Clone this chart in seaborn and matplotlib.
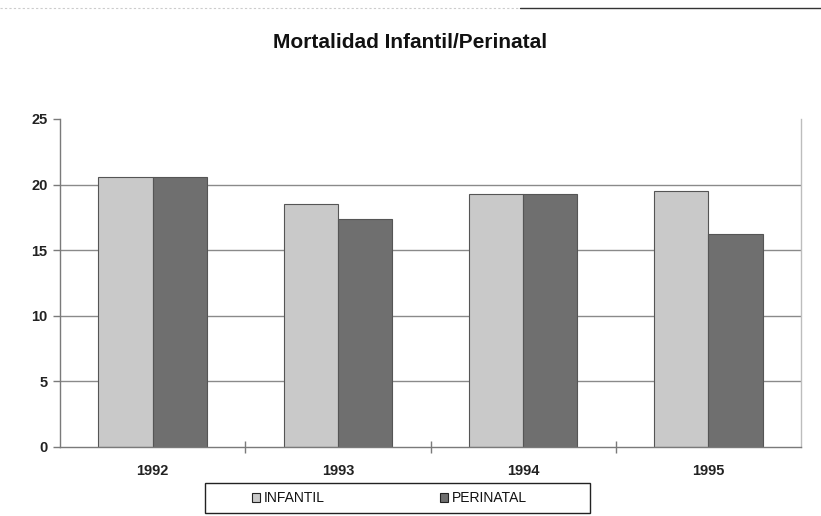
import matplotlib
matplotlib.use("Agg")
import matplotlib.pyplot as plt
import matplotlib.lines as mlines
import matplotlib.patches as mpatches
import seaborn as sns
import pandas as pd

# Tasas por año
years = ["1992", "1993", "1994", "1995"]
infantil = [20.6, 18.5, 19.3, 19.5]
perinatal = [20.6, 17.4, 19.3, 16.2]
series_names = ["INFANTIL", "PERINATAL"]
y_ticks = [0, 5, 10, 15, 20, 25]
title = "Mortalidad Infantil/Perinatal"

df = pd.DataFrame({
    "year": years * 2,
    "serie": [series_names[0]] * len(years) + [series_names[1]] * len(years),
    "value": infantil + perinatal,
})

sns.set_theme(style="white")
plt.rcParams["font.family"] = ["Liberation Sans", "DejaVu Sans"]

colors = {"INFANTIL": "#c9c9c9", "PERINATAL": "#6f6f6f"}

fig = plt.figure(figsize=(8.21, 5.16), dpi=100)
ax = fig.add_axes([60 / 821, 1 - 447 / 516, 741 / 821, 328 / 516])

sns.barplot(data=df, x="year", y="value", hue="serie", palette=colors,
            order=years, hue_order=series_names, width=0.585, gap=0,
            edgecolor="#555555", linewidth=0.8, saturation=1, ax=ax,
            legend=False)

ax.set_xlim(-0.5, len(years) - 0.5)
ax.set_ylim(0, 25)
ax.set_yticks(y_ticks)
ax.set_xlabel("")
ax.set_ylabel("")

# horizontal grid
ax.yaxis.grid(True, color="#8a8a8a", linewidth=1.0)
ax.set_axisbelow(True)
gl = ax.yaxis.get_gridlines()
gl[0].set_visible(False)
gl[-1].set_visible(False)

ax.spines["top"].set_visible(False)
ax.spines["left"].set_color("#7a7a7a")
ax.spines["bottom"].set_color("#7a7a7a")
ax.spines["right"].set_color("#bdbdbd")
for s in ["left", "bottom", "right"]:
    ax.spines[s].set_linewidth(1.0)

ax.tick_params(axis="y", which="major", left=True, direction="out", length=5,
               width=1, color="#7a7a7a", labelsize=10.5, pad=4)
ax.tick_params(axis="x", which="major", bottom=False, labelsize=10.5, pad=6)
ax.set_xticks([i + 0.5 for i in range(len(years) - 1)], minor=True)
ax.tick_params(axis="x", which="minor", bottom=True, direction="inout", length=8,
               width=1, color="#7a7a7a")
for lab in ax.get_xticklabels() + ax.get_yticklabels():
    lab.set_fontweight("bold")
    lab.set_color("#222222")

fig.text(410 / 821, 1 - 42 / 516, title, ha="center", va="center",
         fontsize=15, fontweight="bold", color="#111111")

# legend: boxed strip below the axis
box = mpatches.Rectangle((205 / 821, 1 - 513 / 516), 385 / 821, 30 / 516,
                         transform=fig.transFigure, facecolor="white",
                         edgecolor="#222222", linewidth=1.0)
fig.add_artist(box)
handles = [mpatches.Patch(facecolor=colors[n], edgecolor="#222222", linewidth=0.8, label=n)
           for n in series_names]
leg = fig.legend(handles=handles, loc="center left",
                 bbox_to_anchor=(252 / 821, 1 - 498 / 516),
                 ncol=2, frameon=False, borderaxespad=0, borderpad=0,
                 handlelength=0.6, handleheight=0.6, handletextpad=0.25,
                 columnspacing=8.3, prop={"size": 10})
for t in leg.get_texts():
    t.set_color("#111111")

# frame line along the top edge
fig.add_artist(mlines.Line2D([520 / 821, 1.0], [1 - 8 / 516, 1 - 8 / 516],
                             color="#333333", linewidth=1.0))
fig.add_artist(mlines.Line2D([0.0, 520 / 821], [1 - 8 / 516, 1 - 8 / 516],
                             color="#cccccc", linewidth=0.8, linestyle=(0, (2, 2))))

fig.savefig("out.png", dpi=100)
